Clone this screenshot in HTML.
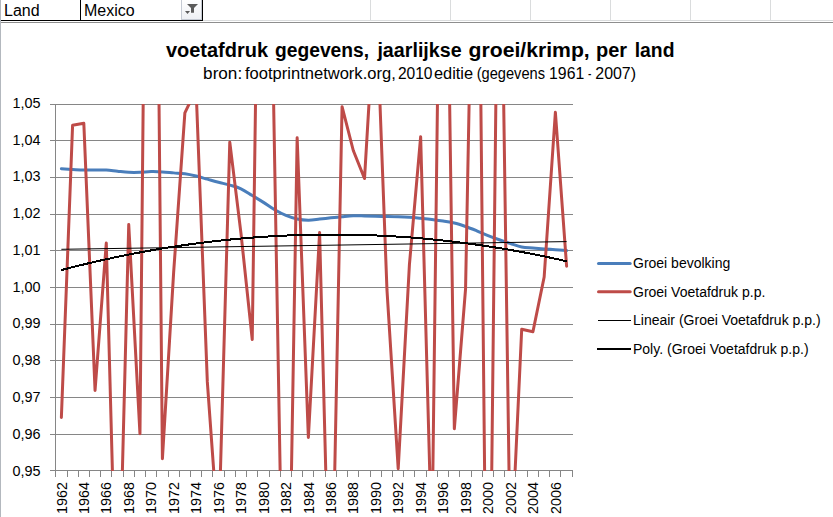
<!DOCTYPE html>
<html><head><meta charset="utf-8"><style>
html,body{margin:0;padding:0;width:833px;height:517px;overflow:hidden;background:#fff;font-family:"Liberation Sans",sans-serif}
</style></head><body>
<div style="position:relative;width:833px;height:517px;overflow:hidden">

<div style="position:absolute;left:0;top:0;width:1px;height:517px;background:#b3b8be"></div>
<div style="position:absolute;left:1px;top:20px;width:201px;height:1px;background:#000"></div>
<div style="position:absolute;left:202px;top:20px;width:631px;height:1px;background:#dadcdd"></div>
<div style="position:absolute;left:1px;top:22px;width:832px;height:1px;background:#8e8e8e"></div>
<div style="position:absolute;left:80px;top:0;width:1px;height:21px;background:#000"></div>
<div style="position:absolute;left:202px;top:0;width:1px;height:21px;background:#000"></div>
<div style="position:absolute;left:370px;top:0;width:1px;height:20px;background:#dadcdd"></div><div style="position:absolute;left:450px;top:0;width:1px;height:20px;background:#dadcdd"></div><div style="position:absolute;left:530px;top:0;width:1px;height:20px;background:#dadcdd"></div><div style="position:absolute;left:610px;top:0;width:1px;height:20px;background:#dadcdd"></div><div style="position:absolute;left:690px;top:0;width:1px;height:20px;background:#dadcdd"></div><div style="position:absolute;left:770px;top:0;width:1px;height:20px;background:#dadcdd"></div>
<div style="position:absolute;left:181px;top:0;width:19px;height:19px;border:1px solid #c5cad3;border-top:none;background:linear-gradient(#ffffff,#eef0f4)"></div>
<svg width="22" height="20" style="position:absolute;left:181px;top:0">
<path d="M6,4 L17,4 L13,8 L13,12.7 L10,12.7 L10,8 Z" fill="#5b5b5b"/>
<path d="M4,11 L9,11 L6.5,14 Z" fill="#5b5b5b"/>
</svg>
<div style="position:absolute;left:4px;top:1px;font:16px 'Liberation Sans',sans-serif;color:#000;line-height:20px">Land</div>
<div style="position:absolute;left:84px;top:1px;font:16px 'Liberation Sans',sans-serif;color:#000;line-height:20px">Mexico</div>

<svg width="833" height="517" viewBox="0 0 833 517" style="position:absolute;left:0;top:0"><defs><clipPath id="pc"><rect x="56" y="104" width="517" height="367"/></clipPath></defs><rect x="50" y="104" width="523" height="1" fill="#868686"/><rect x="50" y="140" width="523" height="1" fill="#868686"/><rect x="50" y="177" width="523" height="1" fill="#868686"/><rect x="50" y="214" width="523" height="1" fill="#868686"/><rect x="50" y="250" width="523" height="1" fill="#868686"/><rect x="50" y="287" width="523" height="1" fill="#868686"/><rect x="50" y="324" width="523" height="1" fill="#868686"/><rect x="50" y="360" width="523" height="1" fill="#868686"/><rect x="50" y="397" width="523" height="1" fill="#868686"/><rect x="50" y="434" width="523" height="1" fill="#868686"/><rect x="50" y="470" width="523" height="1" fill="#868686"/><rect x="55" y="104" width="1" height="367" fill="#868686"/><rect x="55" y="470" width="1" height="7" fill="#868686"/><rect x="67" y="470" width="1" height="7" fill="#868686"/><rect x="78" y="470" width="1" height="7" fill="#868686"/><rect x="89" y="470" width="1" height="7" fill="#868686"/><rect x="100" y="470" width="1" height="7" fill="#868686"/><rect x="111" y="470" width="1" height="7" fill="#868686"/><rect x="123" y="470" width="1" height="7" fill="#868686"/><rect x="134" y="470" width="1" height="7" fill="#868686"/><rect x="145" y="470" width="1" height="7" fill="#868686"/><rect x="156" y="470" width="1" height="7" fill="#868686"/><rect x="168" y="470" width="1" height="7" fill="#868686"/><rect x="179" y="470" width="1" height="7" fill="#868686"/><rect x="190" y="470" width="1" height="7" fill="#868686"/><rect x="201" y="470" width="1" height="7" fill="#868686"/><rect x="212" y="470" width="1" height="7" fill="#868686"/><rect x="224" y="470" width="1" height="7" fill="#868686"/><rect x="235" y="470" width="1" height="7" fill="#868686"/><rect x="246" y="470" width="1" height="7" fill="#868686"/><rect x="257" y="470" width="1" height="7" fill="#868686"/><rect x="269" y="470" width="1" height="7" fill="#868686"/><rect x="280" y="470" width="1" height="7" fill="#868686"/><rect x="291" y="470" width="1" height="7" fill="#868686"/><rect x="302" y="470" width="1" height="7" fill="#868686"/><rect x="313" y="470" width="1" height="7" fill="#868686"/><rect x="325" y="470" width="1" height="7" fill="#868686"/><rect x="336" y="470" width="1" height="7" fill="#868686"/><rect x="347" y="470" width="1" height="7" fill="#868686"/><rect x="358" y="470" width="1" height="7" fill="#868686"/><rect x="370" y="470" width="1" height="7" fill="#868686"/><rect x="381" y="470" width="1" height="7" fill="#868686"/><rect x="392" y="470" width="1" height="7" fill="#868686"/><rect x="403" y="470" width="1" height="7" fill="#868686"/><rect x="414" y="470" width="1" height="7" fill="#868686"/><rect x="426" y="470" width="1" height="7" fill="#868686"/><rect x="437" y="470" width="1" height="7" fill="#868686"/><rect x="448" y="470" width="1" height="7" fill="#868686"/><rect x="459" y="470" width="1" height="7" fill="#868686"/><rect x="471" y="470" width="1" height="7" fill="#868686"/><rect x="482" y="470" width="1" height="7" fill="#868686"/><rect x="493" y="470" width="1" height="7" fill="#868686"/><rect x="504" y="470" width="1" height="7" fill="#868686"/><rect x="515" y="470" width="1" height="7" fill="#868686"/><rect x="527" y="470" width="1" height="7" fill="#868686"/><rect x="538" y="470" width="1" height="7" fill="#868686"/><rect x="549" y="470" width="1" height="7" fill="#868686"/><rect x="560" y="470" width="1" height="7" fill="#868686"/><rect x="572" y="470" width="1" height="7" fill="#868686"/><g clip-path="url(#pc)"><path d="M61.37,168.74 C63.24,168.87 68.85,169.27 72.59,169.50 C76.34,169.72 80.08,170.03 83.82,170.10 C87.56,170.17 91.31,169.94 95.05,169.93 C98.79,169.92 102.53,169.82 106.28,170.05 C110.02,170.27 113.76,170.89 117.50,171.27 C121.25,171.64 124.99,172.13 128.73,172.30 C132.47,172.47 136.22,172.42 139.96,172.30 C143.70,172.18 147.44,171.67 151.19,171.60 C154.93,171.53 158.67,171.67 162.41,171.88 C166.16,172.09 169.90,172.56 173.64,172.88 C177.38,173.20 181.13,173.27 184.87,173.79 C188.61,174.32 192.35,175.16 196.10,176.06 C199.84,176.95 203.58,178.12 207.33,179.15 C211.07,180.18 214.81,181.25 218.55,182.24 C222.30,183.23 226.04,184.01 229.78,185.10 C233.52,186.19 237.27,187.05 241.01,188.78 C244.75,190.52 248.49,193.27 252.24,195.53 C255.98,197.80 259.72,199.99 263.46,202.36 C267.21,204.72 270.95,207.56 274.69,209.73 C278.43,211.89 282.18,213.81 285.92,215.34 C289.66,216.88 293.40,218.15 297.15,218.95 C300.89,219.76 304.63,220.14 308.37,220.16 C312.12,220.18 315.86,219.47 319.60,219.07 C323.34,218.68 327.09,218.21 330.83,217.80 C334.57,217.39 338.31,216.98 342.06,216.64 C345.80,216.29 349.54,215.84 353.29,215.73 C357.03,215.62 360.77,215.86 364.51,215.96 C368.26,216.06 372.00,216.24 375.74,216.33 C379.48,216.42 383.23,216.41 386.97,216.48 C390.71,216.55 394.45,216.61 398.20,216.75 C401.94,216.89 405.68,217.07 409.42,217.33 C413.17,217.58 416.91,217.94 420.65,218.29 C424.39,218.64 428.14,218.97 431.88,219.42 C435.62,219.88 439.36,220.45 443.11,221.03 C446.85,221.62 450.59,222.03 454.33,222.94 C458.08,223.84 461.82,225.15 465.56,226.47 C469.30,227.78 473.05,229.30 476.79,230.81 C480.53,232.32 484.28,234.04 488.02,235.53 C491.76,237.01 495.50,238.39 499.25,239.72 C502.99,241.05 506.73,242.30 510.47,243.52 C514.22,244.73 517.96,246.26 521.70,247.01 C525.44,247.77 529.19,247.72 532.93,248.04 C536.67,248.36 540.41,248.64 544.16,248.93 C547.90,249.21 551.64,249.48 555.38,249.76 C559.13,250.04 564.74,250.45 566.61,250.59" fill="none" stroke="#4A7EBB" stroke-width="3" stroke-linecap="round" stroke-linejoin="round"/><path d="M61.37,417.50 L72.59,125.20 L83.82,123.30 L95.05,390.50 L106.28,243.00 L117.50,660.77 L128.73,224.51 L139.96,433.76 L151.19,-720.56 L162.41,458.69 L173.64,272.45 L184.87,112.90 L196.10,89.31 L207.33,381.88 L218.55,537.63 L229.78,142.15 L241.01,233.57 L252.24,339.58 L263.46,-470.56 L274.69,163.44 L285.92,797.58 L297.15,137.69 L308.37,437.50 L319.60,232.51 L330.83,666.94 L342.06,106.74 L353.29,150.50 L364.51,178.56 L375.74,-9.15 L386.97,289.96 L398.20,468.71 L409.42,264.65 L420.65,136.70 L431.88,550.27 L443.11,-351.21 L454.33,428.82 L465.56,288.84 L476.79,-295.99 L488.02,805.05 L499.25,-201.73 L510.47,570.38 L521.70,329.26 L532.93,331.75 L544.16,277.00 L555.38,112.25 L566.61,266.25" fill="none" stroke="#BE4B48" stroke-width="3" stroke-linecap="round" stroke-linejoin="round"/><path d="M61.37,249.30 L566.61,241.60" fill="none" stroke="#000" stroke-width="1"/><path d="M61.37,270.07 L67.76,268.41 L74.16,266.79 L80.55,265.21 L86.95,263.67 L93.34,262.16 L99.74,260.70 L106.13,259.28 L112.53,257.89 L118.92,256.55 L125.32,255.25 L131.72,253.98 L138.11,252.76 L144.51,251.57 L150.90,250.43 L157.30,249.33 L163.69,248.26 L170.09,247.23 L176.48,246.25 L182.88,245.30 L189.28,244.40 L195.67,243.53 L202.07,242.70 L208.46,241.91 L214.86,241.17 L221.25,240.46 L227.65,239.79 L234.04,239.16 L240.44,238.57 L246.84,238.03 L253.23,237.52 L259.63,237.05 L266.02,236.62 L272.42,236.23 L278.81,235.88 L285.21,235.57 L291.60,235.30 L298.00,235.06 L304.39,234.87 L310.79,234.72 L317.19,234.61 L323.58,234.54 L329.98,234.51 L336.37,234.51 L342.77,234.56 L349.16,234.65 L355.56,234.77 L361.95,234.94 L368.35,235.14 L374.75,235.39 L381.14,235.68 L387.54,236.00 L393.93,236.37 L400.33,236.77 L406.72,237.21 L413.12,237.70 L419.51,238.22 L425.91,238.79 L432.31,239.39 L438.70,240.03 L445.10,240.71 L451.49,241.44 L457.89,242.20 L464.28,243.00 L470.68,243.84 L477.07,244.72 L483.47,245.64 L489.87,246.61 L496.26,247.61 L502.66,248.65 L509.05,249.73 L515.45,250.85 L521.84,252.01 L528.24,253.20 L534.63,254.44 L541.03,255.72 L547.42,257.04 L553.82,258.40 L560.22,259.80 L566.61,261.23" fill="none" stroke="#000" stroke-width="2" shape-rendering="crispEdges"/></g><line x1="598.5" y1="263.5" x2="630.2" y2="263.5" stroke="#4A7EBB" stroke-width="3" stroke-linecap="round"/><line x1="598.5" y1="291.8" x2="630.2" y2="291.8" stroke="#BE4B48" stroke-width="3" stroke-linecap="round"/><rect x="598" y="320" width="33" height="1" fill="#000"/><rect x="597" y="348" width="34" height="2" fill="#000"/><text x="40.5" y="107.80" text-anchor="end" font-family="Liberation Sans" font-size="14.4" fill="#000">1,05</text><text x="40.5" y="144.57" text-anchor="end" font-family="Liberation Sans" font-size="14.4" fill="#000">1,04</text><text x="40.5" y="181.34" text-anchor="end" font-family="Liberation Sans" font-size="14.4" fill="#000">1,03</text><text x="40.5" y="218.11" text-anchor="end" font-family="Liberation Sans" font-size="14.4" fill="#000">1,02</text><text x="40.5" y="254.88" text-anchor="end" font-family="Liberation Sans" font-size="14.4" fill="#000">1,01</text><text x="40.5" y="291.65" text-anchor="end" font-family="Liberation Sans" font-size="14.4" fill="#000">1,00</text><text x="40.5" y="328.42" text-anchor="end" font-family="Liberation Sans" font-size="14.4" fill="#000">0,99</text><text x="40.5" y="365.19" text-anchor="end" font-family="Liberation Sans" font-size="14.4" fill="#000">0,98</text><text x="40.5" y="401.96" text-anchor="end" font-family="Liberation Sans" font-size="14.4" fill="#000">0,97</text><text x="40.5" y="438.73" text-anchor="end" font-family="Liberation Sans" font-size="14.4" fill="#000">0,96</text><text x="40.5" y="475.50" text-anchor="end" font-family="Liberation Sans" font-size="14.4" fill="#000">0,95</text><text transform="translate(66.56,482) rotate(-90)" text-anchor="end" font-family="Liberation Sans" font-size="14.4" fill="#000">1962</text><text transform="translate(89.02,482) rotate(-90)" text-anchor="end" font-family="Liberation Sans" font-size="14.4" fill="#000">1964</text><text transform="translate(111.48,482) rotate(-90)" text-anchor="end" font-family="Liberation Sans" font-size="14.4" fill="#000">1966</text><text transform="translate(133.93,482) rotate(-90)" text-anchor="end" font-family="Liberation Sans" font-size="14.4" fill="#000">1968</text><text transform="translate(156.39,482) rotate(-90)" text-anchor="end" font-family="Liberation Sans" font-size="14.4" fill="#000">1970</text><text transform="translate(178.84,482) rotate(-90)" text-anchor="end" font-family="Liberation Sans" font-size="14.4" fill="#000">1972</text><text transform="translate(201.30,482) rotate(-90)" text-anchor="end" font-family="Liberation Sans" font-size="14.4" fill="#000">1974</text><text transform="translate(223.75,482) rotate(-90)" text-anchor="end" font-family="Liberation Sans" font-size="14.4" fill="#000">1976</text><text transform="translate(246.21,482) rotate(-90)" text-anchor="end" font-family="Liberation Sans" font-size="14.4" fill="#000">1978</text><text transform="translate(268.66,482) rotate(-90)" text-anchor="end" font-family="Liberation Sans" font-size="14.4" fill="#000">1980</text><text transform="translate(291.12,482) rotate(-90)" text-anchor="end" font-family="Liberation Sans" font-size="14.4" fill="#000">1982</text><text transform="translate(313.57,482) rotate(-90)" text-anchor="end" font-family="Liberation Sans" font-size="14.4" fill="#000">1984</text><text transform="translate(336.03,482) rotate(-90)" text-anchor="end" font-family="Liberation Sans" font-size="14.4" fill="#000">1986</text><text transform="translate(358.49,482) rotate(-90)" text-anchor="end" font-family="Liberation Sans" font-size="14.4" fill="#000">1988</text><text transform="translate(380.94,482) rotate(-90)" text-anchor="end" font-family="Liberation Sans" font-size="14.4" fill="#000">1990</text><text transform="translate(403.40,482) rotate(-90)" text-anchor="end" font-family="Liberation Sans" font-size="14.4" fill="#000">1992</text><text transform="translate(425.85,482) rotate(-90)" text-anchor="end" font-family="Liberation Sans" font-size="14.4" fill="#000">1994</text><text transform="translate(448.31,482) rotate(-90)" text-anchor="end" font-family="Liberation Sans" font-size="14.4" fill="#000">1996</text><text transform="translate(470.76,482) rotate(-90)" text-anchor="end" font-family="Liberation Sans" font-size="14.4" fill="#000">1998</text><text transform="translate(493.22,482) rotate(-90)" text-anchor="end" font-family="Liberation Sans" font-size="14.4" fill="#000">2000</text><text transform="translate(515.67,482) rotate(-90)" text-anchor="end" font-family="Liberation Sans" font-size="14.4" fill="#000">2002</text><text transform="translate(538.13,482) rotate(-90)" text-anchor="end" font-family="Liberation Sans" font-size="14.4" fill="#000">2004</text><text transform="translate(560.58,482) rotate(-90)" text-anchor="end" font-family="Liberation Sans" font-size="14.4" fill="#000">2006</text><text x="165.9" y="56.5" textLength="102.17" lengthAdjust="spacingAndGlyphs" font-family="Liberation Sans" font-weight="bold" font-size="20.44" fill="#000">voetafdruk</text><text x="275.06" y="56.5" textLength="94.05" lengthAdjust="spacingAndGlyphs" font-family="Liberation Sans" font-weight="bold" font-size="20.44" fill="#000">gegevens,</text><text x="377.4" y="56.5" textLength="84.28" lengthAdjust="spacingAndGlyphs" font-family="Liberation Sans" font-weight="bold" font-size="20.44" fill="#000">jaarlijkse</text><text x="468.56" y="56.5" textLength="121.16" lengthAdjust="spacingAndGlyphs" font-family="Liberation Sans" font-weight="bold" font-size="20.44" fill="#000">groei/krimp,</text><text x="596.02" y="56.5" textLength="31.09" lengthAdjust="spacingAndGlyphs" font-family="Liberation Sans" font-weight="bold" font-size="20.44" fill="#000">per</text><text x="634.76" y="56.5" textLength="39.7" lengthAdjust="spacingAndGlyphs" font-family="Liberation Sans" font-weight="bold" font-size="20.44" fill="#000">land</text><text x="203.11" y="78.7" textLength="39.04" lengthAdjust="spacingAndGlyphs" font-family="Liberation Sans" font-size="15.66" fill="#000">bron:</text><text x="245.0" y="78.7" textLength="150.72" lengthAdjust="spacingAndGlyphs" font-family="Liberation Sans" font-size="15.66" fill="#000">footprintnetwork.org,</text><text x="397.91" y="78.7" textLength="34.63" lengthAdjust="spacingAndGlyphs" font-family="Liberation Sans" font-size="15.66" fill="#000">2010</text><text x="433.96" y="78.7" textLength="39.1" lengthAdjust="spacingAndGlyphs" font-family="Liberation Sans" font-size="15.66" fill="#000">editie</text><text x="476.67" y="78.7" textLength="68.35" lengthAdjust="spacingAndGlyphs" font-family="Liberation Sans" font-size="15.66" fill="#000">(gegevens</text><text x="549.09" y="78.7" textLength="35.16" lengthAdjust="spacingAndGlyphs" font-family="Liberation Sans" font-size="15.66" fill="#000">1961</text><text x="588.05" y="78.7" textLength="3.39" lengthAdjust="spacingAndGlyphs" font-family="Liberation Sans" font-size="15.66" fill="#000">-</text><text x="595.28" y="78.7" textLength="40.78" lengthAdjust="spacingAndGlyphs" font-family="Liberation Sans" font-size="15.66" fill="#000">2007)</text><text x="633" y="268.0" font-family="Liberation Sans" font-size="14" fill="#000">Groei bevolking</text><text x="633" y="296.5" font-family="Liberation Sans" font-size="14" fill="#000">Groei Voetafdruk p.p.</text><text x="633" y="325.0" font-family="Liberation Sans" font-size="14" fill="#000">Lineair (Groei Voetafdruk p.p.)</text><text x="633" y="353.5" font-family="Liberation Sans" font-size="14" fill="#000">Poly. (Groei Voetafdruk p.p.)</text></svg>
</div>
</body></html>
